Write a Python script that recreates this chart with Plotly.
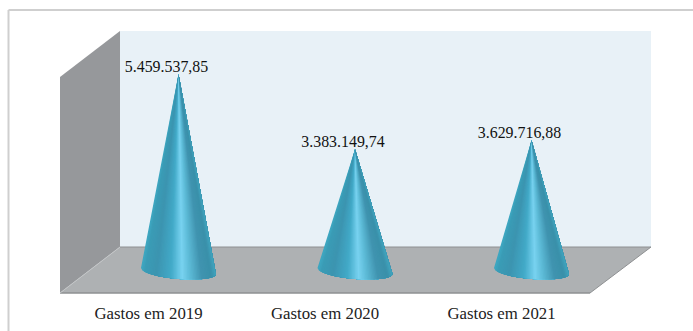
import math
import plotly.graph_objects as go

categories = ["Gastos em 2019", "Gastos em 2020", "Gastos em 2021"]
values = [5459537.85, 3383149.74, 3629716.88]

W, H = 693, 331
FLOOR_FRONT = 293      # pixel row of the plot area's lower edge
ZERO_ROW = 271
PER_PX = 27760.0
STEP = 176.5
FIRST = 148.5
DEPTH = 30 / STEP      # 3D shift of the cones from the tick position
HALF_W = 37.5 / STEP
TILT = 3 * PER_PX
ARC = 8 * PER_PX
LABEL_SHIFT = 12 / STEP
LABEL_DROP = 2 * PER_PX

stops = [(-1.0, (62, 168, 194)), (-0.9, (58, 156, 182)), (-0.6, (60, 148, 176)),
         (-0.2, (66, 170, 200)), (0.1, (120, 210, 240)), (0.3, (94, 188, 216)),
         (0.62, (64, 148, 176)), (0.88, (58, 144, 170)), (1.0, (64, 164, 190))]


def colour(t):
    for (a, ca), (b, cb) in zip(stops, stops[1:]):
        if a <= t <= b:
            f = (t - a) / (b - a)
            return "rgb(%d,%d,%d)" % tuple(round(p + (q - p) * f) for p, q in zip(ca, cb))
    return "rgb(%d,%d,%d)" % stops[-1][1]


def base_y(t):
    return -TILT * t - ARC * math.sqrt(max(0, 1 - t * t))


def px(x):
    return x / W


def py(y):
    return (FLOOR_FRONT - y) / FLOOR_FRONT


def poly(points, fill, line=None):
    path = "M" + " L".join(f"{px(a):.5f},{py(b):.5f}" for a, b in points) + " Z"
    return dict(type="path", path=path, xref="paper", yref="paper", fillcolor=fill, layer="below",
                line=dict(color=line or fill, width=1 if line else 0))


fig = go.Figure()
N = 50
ARC_STEPS = 60
for i, v in enumerate(values):
    xc = i + DEPTH
    for s in range(N):
        t0 = -1 + 2 * s / N
        # every slice reaches the right rim; the next slice paints over it, so no seams show
        ts = [t0 + (1 - t0) * j / ARC_STEPS for j in range(ARC_STEPS + 1)]
        xs = [xc] + [xc + HALF_W * t for t in ts] + [xc]
        ys = [v] + [base_y(t) for t in ts] + [v]
        c = colour(t0 + 1 / N)
        fig.add_trace(go.Scatter(x=xs, y=ys, mode="none", fill="toself", fillcolor=c,
                                 hoverinfo="skip", showlegend=False))

fig.add_trace(go.Scatter(
    x=[i + DEPTH - LABEL_SHIFT for i in range(len(values))], y=[v - LABEL_DROP for v in values],
    mode="text", text=[f"{v:,.2f}".replace(",", "_").replace(".", ",").replace("_", ".") for v in values],
    textposition="top center",
    textfont=dict(family="Liberation Serif", size=15.9, color="#111111"),
    hoverinfo="skip", showlegend=False))

shapes = [
    poly([(120, 31), (651, 31), (651, 247), (120, 247)], "#e8f1f7"),
    poly([(60, 77), (120, 31), (120, 247), (60, 293)], "#96989b"),
    poly([(120, 247), (651, 247), (590, 293), (60, 293)], "#aeb1b3"),
    dict(type="line", xref="paper", yref="paper", x0=px(120), x1=px(651), y0=py(247), y1=py(247),
         line=dict(color="#8e9092", width=1), layer="below"),
    dict(type="line", xref="paper", yref="paper", x0=px(60), x1=px(590), y0=py(293), y1=py(293),
         line=dict(color="#8e9092", width=1.5), layer="below"),
    dict(type="line", xref="paper", yref="paper", x0=px(590), x1=px(651), y0=py(293), y1=py(247),
         line=dict(color="#8e9092", width=1), layer="below"),
    dict(type="line", xref="paper", yref="paper", x0=px(60), x1=px(120), y0=py(293), y1=py(247),
         line=dict(color="#c4c6c8", width=1), layer="below"),
    dict(type="line", xref="paper", yref="paper", x0=px(8.5), x1=1, y0=py(10), y1=py(10),
         line=dict(color="#cfcfcf", width=2), layer="below"),
    dict(type="line", xref="paper", yref="paper", x0=px(8.5), x1=px(8.5), y0=py(10), y1=py(331),
         line=dict(color="#cfcfcf", width=2), layer="below"),
]

fig.update_layout(
    width=W, height=H, margin=dict(l=0, r=0, t=0, b=H - FLOOR_FRONT),
    paper_bgcolor="white", plot_bgcolor="white", showlegend=False,
    shapes=shapes,
    xaxis=dict(range=[-FIRST / STEP, (W - FIRST) / STEP], tickmode="array",
               tickvals=list(range(len(categories))), ticktext=categories,
               showgrid=False, zeroline=False, showline=False, ticks="", ticklabelstandoff=8,
               tickfont=dict(family="Liberation Serif", size=16.8, color="#222222")),
    yaxis=dict(range=[-(FLOOR_FRONT - ZERO_ROW) * PER_PX, ZERO_ROW * PER_PX], visible=False),
)
fig.write_html("out.html", config=dict(displayModeBar=False),
               post_script="document.body.style.margin='0';")
